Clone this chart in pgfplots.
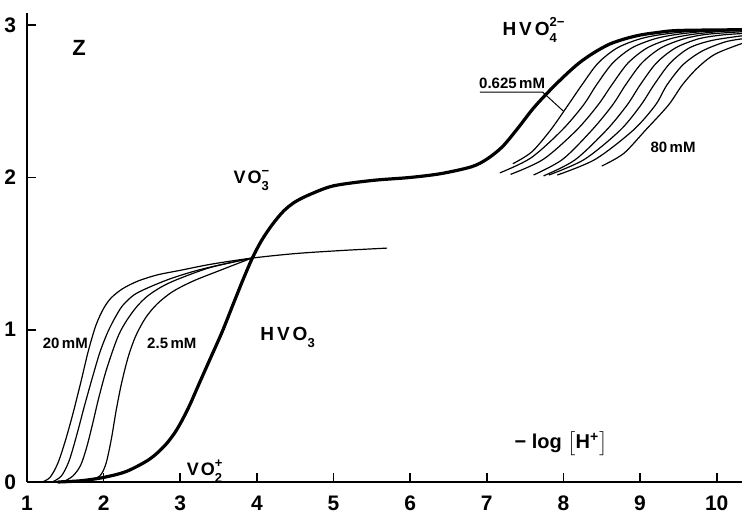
\documentclass[border=0pt]{standalone}
\usepackage{fontspec}
\setmainfont{Liberation Sans}
\usepackage{pgfplots}
\pgfplotsset{compat=1.18}
\newcommand{\supsub}[2]{\rlap{\raisebox{0.48em}{\fontsize{6.5}{7}\selectfont #1}}\raisebox{-0.38em}{\fontsize{6.5}{7}\selectfont #2}}
\begin{document}
\begin{tikzpicture}
\begin{axis}[
  scale only axis, width=357.5pt, height=234.5pt,
  xmin=1, xmax=10.33, ymin=0, ymax=3.08,
  axis lines=left, axis line style={-, line width=1pt},
  xtick={1,...,10}, ytick={0,1,2,3},
  tick align=inside, major tick length=4.5pt,
  tick style={line width=0.8pt, black},
  ticklabel style={font=\bfseries\fontsize{10.5}{11}\selectfont},
  xticklabel style={yshift=-3.5pt},
  yticklabel style={xshift=-2pt},
  /pgf/number format/assume math mode=true,
  clip=false,
  every axis plot/.append style={smooth, black, no markers},
]
\coordinate (bl) at (rel axis cs:0,0);
\coordinate (tr) at (rel axis cs:1,1);
% thick curve
\addplot[line width=1.6pt] coordinates {
(1.4,0) (1.7,0.008) (2.0,0.03) (2.3,0.07) (2.6,0.15) (2.8,0.24) (2.95,0.34) (3.1,0.48) (3.25,0.65) (3.4,0.82) (3.55,0.99) (3.7,1.18) (3.82,1.33) (3.94,1.47) (4.06,1.585) (4.2,1.69) (4.35,1.78) (4.5,1.84) (4.7,1.89) (5.0,1.945) (5.5,1.98) (6.0,2.0) (6.4,2.025) (6.8,2.07) (7.0,2.12) (7.2,2.20) (7.4,2.32) (7.6,2.45) (7.8,2.56) (8.0,2.66) (8.2,2.75) (8.4,2.82) (8.6,2.875) (8.8,2.91) (9.0,2.935) (9.2,2.95) (9.5,2.965) (10.33,2.97)};
% low pH thin curves
\addplot[line width=0.6pt] coordinates {
(1.2,0) (1.3,0.03) (1.4,0.12) (1.5,0.27) (1.6,0.45) (1.7,0.65) (1.8,0.86) (1.9,1.03) (2.0,1.14) (2.1,1.21) (2.25,1.27) (2.45,1.32) (2.7,1.36) (3.0,1.39) (3.4,1.43) (3.93,1.47) (4.5,1.50) (5.1,1.52) (5.7,1.536)};
\addplot[line width=0.6pt] coordinates {
(1.33,0) (1.45,0.04) (1.55,0.14) (1.65,0.31) (1.75,0.50) (1.85,0.68) (1.95,0.85) (2.05,0.98) (2.15,1.08) (2.25,1.16) (2.4,1.23) (2.6,1.28) (2.9,1.34) (3.3,1.40) (3.93,1.47)};
\addplot[line width=0.6pt] coordinates {
(1.47,0) (1.6,0.04) (1.7,0.11) (1.78,0.23) (1.86,0.39) (1.93,0.54) (2.02,0.71) (2.11,0.85) (2.2,0.97) (2.3,1.06) (2.43,1.15) (2.57,1.22) (2.75,1.28) (2.96,1.33) (3.4,1.41) (3.93,1.47)};
\addplot[line width=0.6pt] coordinates {
(1.6,0) (1.8,0.01) (1.95,0.04) (2.03,0.12) (2.1,0.28) (2.16,0.46) (2.23,0.64) (2.32,0.82) (2.42,0.96) (2.55,1.08) (2.7,1.17) (2.9,1.25) (3.17,1.32) (3.52,1.39) (3.93,1.47)};
% high pH thin curves
\addplot[line width=0.6pt] coordinates {
(7.34,2.09) (7.585,2.167) (7.83,2.31) (8.06,2.475) (8.24,2.607) (8.45,2.75) (8.70,2.85) (9.0,2.91) (9.3,2.94) (9.69,2.96) (10.33,2.97)};
\addplot[line width=0.6pt] coordinates {
(7.17,2.03) (7.575,2.128) (7.98,2.31) (8.26,2.475) (8.43,2.607) (8.64,2.75) (8.89,2.85) (9.19,2.91) (9.49,2.94) (9.88,2.96) (10.33,2.965)};
\addplot[line width=0.6pt] coordinates {
(7.31,2.02) (7.74,2.12) (8.17,2.31) (8.45,2.475) (8.63,2.607) (8.84,2.75) (9.09,2.85) (9.39,2.91) (9.69,2.94) (10.08,2.96) (10.33,2.965)};
\addplot[line width=0.6pt] coordinates {
(7.61,2.016) (7.99,2.119) (8.37,2.31) (8.64,2.475) (8.81,2.607) (9.02,2.75) (9.27,2.85) (9.57,2.91) (9.87,2.94) (10.33,2.957)};
\addplot[line width=0.6pt] coordinates {
(7.74,2.01) (8.15,2.115) (8.56,2.31) (8.83,2.475) (9.00,2.607) (9.21,2.75) (9.46,2.85) (9.76,2.91) (10.06,2.935) (10.33,2.945)};
\addplot[line width=0.6pt] coordinates {
(7.81,2.016) (8.275,2.119) (8.74,2.31) (9.01,2.475) (9.18,2.607) (9.39,2.75) (9.64,2.85) (9.94,2.90) (10.33,2.93)};
\addplot[line width=0.6pt] coordinates {
(7.92,2.016) (8.415,2.119) (8.91,2.31) (9.20,2.475) (9.35,2.607) (9.56,2.74) (9.81,2.83) (10.11,2.89) (10.33,2.91)};
\addplot[line width=0.6pt] coordinates {
(8.50,2.075) (8.785,2.157) (9.07,2.31) (9.37,2.475) (9.55,2.607) (9.75,2.72) (9.98,2.81) (10.33,2.88)};
% leader line
\draw[line width=0.5pt] (axis cs:6.91,2.56) -- (axis cs:7.73,2.56) -- (axis cs:8.0,2.435);
% labels
\node[font=\bfseries\fontsize{11}{12}\selectfont] at (axis cs:1.68,2.85) {Z};
\node[font=\bfseries\fontsize{7.5}{8}\selectfont] at (axis cs:1.50,0.91) {20\,mM};
\node[font=\bfseries\fontsize{7.5}{8}\selectfont] at (axis cs:2.89,0.91) {2.5\,mM};
\node[font=\bfseries\fontsize{9.5}{10}\selectfont, anchor=west, inner sep=0pt] at (axis cs:4.04,0.95) {H\kern1.5pt V\kern1.5pt O\raisebox{-0.38em}{\fontsize{6.5}{7}\selectfont 3}};
\node[font=\bfseries\fontsize{9}{10}\selectfont, anchor=base west, inner sep=0pt] at (axis cs:3.08,0.04) {V\kern1pt O\supsub{+}{2}};
\node[font=\bfseries\fontsize{9}{10}\selectfont, anchor=west, inner sep=0pt] at (axis cs:3.69,1.98) {V\kern1pt O\supsub{−}{3}};
\node[font=\bfseries\fontsize{9.5}{10}\selectfont, anchor=west, inner sep=0pt] at (axis cs:7.20,2.97) {H\kern1.5pt V\kern1.5pt O\supsub{2−}{4}};
\node[font=\bfseries\fontsize{7.5}{8}\selectfont, anchor=south, inner sep=1pt] at (axis cs:7.33,2.565) {0.625\,mM};
\node[font=\bfseries\fontsize{7.5}{8}\selectfont] at (axis cs:9.43,2.20) {80\,mM};
\node[font=\bfseries\fontsize{10}{11}\selectfont] at (axis cs:7.97,0.25) {− log $\bigl[$H\textsuperscript{+}$\bigr]$};
\end{axis}
\pgfresetboundingbox
\path ([xshift=-13.5pt,yshift=-18.5pt]bl) rectangle ([yshift=6.5pt]tr);
\end{tikzpicture}
\end{document}
